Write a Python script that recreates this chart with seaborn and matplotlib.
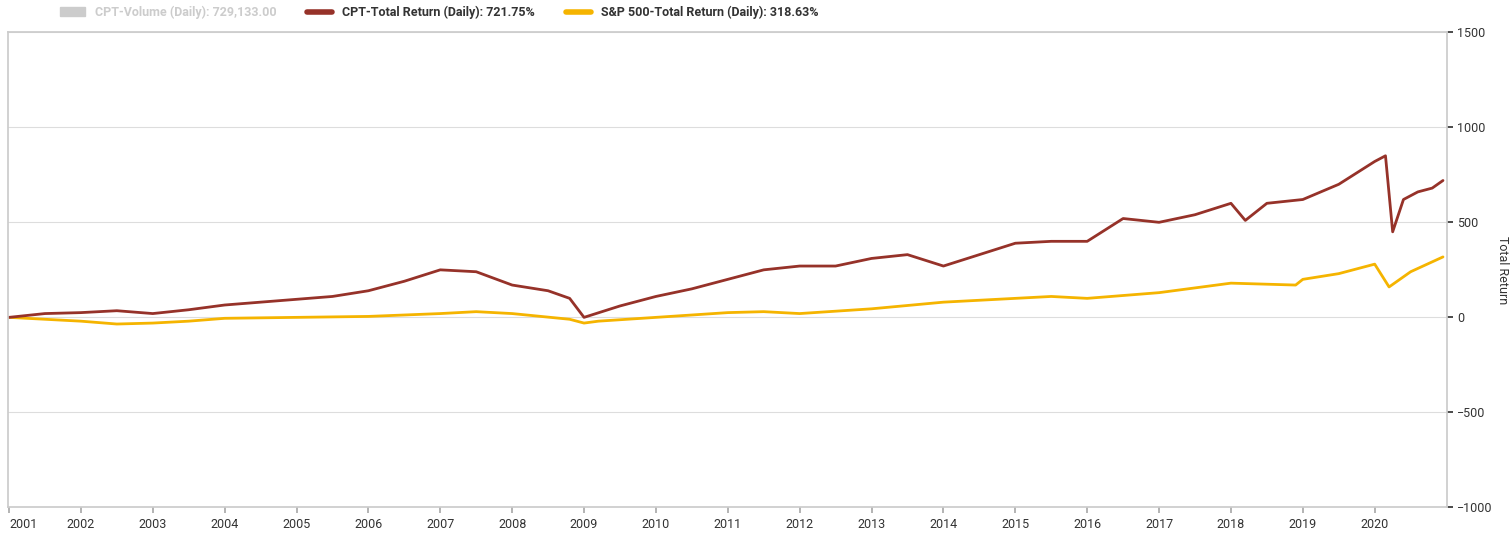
import matplotlib.pyplot as plt
import seaborn as sns
import pandas as pd
from matplotlib.lines import Line2D
from matplotlib.patches import Patch

sns.set_theme(style="white")
plt.rcParams["font.family"] = ["Roboto", "DejaVu Sans"]

cpt_t = [2001.0, 2001.5, 2002.0, 2002.5, 2003.0, 2003.5, 2004.0, 2004.5, 2005.0, 2005.5,
         2006.0, 2006.5, 2007.0, 2007.5, 2008.0, 2008.5, 2008.8, 2009.0, 2009.5, 2010.0,
         2010.5, 2011.0, 2011.5, 2012.0, 2012.5, 2013.0, 2013.5, 2014.0, 2014.5, 2015.0,
         2015.5, 2016.0, 2016.5, 2017.0, 2017.5, 2018.0, 2018.2, 2018.5, 2019.0, 2019.5,
         2020.0, 2020.15, 2020.25, 2020.4, 2020.6, 2020.8, 2020.95]
cpt_v = [0, 20, 25, 35, 20, 40, 65, 80, 95, 110,
         140, 190, 250, 240, 170, 140, 100, 0, 60, 110,
         150, 200, 250, 270, 270, 310, 330, 270, 330, 390,
         400, 400, 520, 500, 540, 600, 510, 600, 620, 700,
         820, 850, 450, 620, 660, 680, 720]
spx_t = [2001.0, 2001.5, 2002.0, 2002.5, 2003.0, 2003.5, 2004.0, 2005.0, 2006.0, 2007.0,
         2007.5, 2008.0, 2008.8, 2009.0, 2009.2, 2010.0, 2011.0, 2011.5, 2012.0, 2013.0,
         2014.0, 2015.0, 2015.5, 2016.0, 2017.0, 2018.0, 2018.9, 2019.0, 2019.5, 2020.0,
         2020.2, 2020.5, 2020.95]
spx_v = [0, -10, -20, -35, -30, -20, -5, 0, 5, 20,
         30, 20, -10, -30, -20, 0, 25, 30, 20, 45,
         80, 100, 110, 100, 130, 180, 170, 200, 230, 280,
         160, 240, 318]
years = list(range(2001, 2021))

cpt_df = pd.DataFrame({"t": cpt_t, "v": cpt_v})
spx_df = pd.DataFrame({"t": spx_t, "v": spx_v})

fig, ax = plt.subplots(figsize=(15.1, 5.37), dpi=100)
fig.subplots_adjust(left=0.005, right=0.958, top=0.94, bottom=0.055)
sns.lineplot(data=spx_df, x="t", y="v", color="#f5b400", lw=2, ax=ax)
sns.lineplot(data=cpt_df, x="t", y="v", color="#963229", lw=2, ax=ax)

ax.set_xlim(2000.98, 2021.0)
ax.set_ylim(-1000, 1500)
ax.yaxis.tick_right()
ax.yaxis.set_label_position("right")
ax.set_yticks(range(-1000, 1501, 500))
ax.set_ylabel("Total Return", rotation=270, labelpad=12, fontsize=9, color="#333")
ax.set_xlabel("")
ax.set_xticks(years)
ax.set_xticklabels([str(y) for y in years])
ax.get_xticklabels()[0].set_horizontalalignment("left")
ax.tick_params(labelsize=9, colors="#333", length=4)
ax.tick_params(axis="x", bottom=True, color="#aaa")
ax.grid(axis="y", color="#dddddd", lw=0.8)
for s in ["left", "top", "right", "bottom"]:
    ax.spines[s].set_color("#cccccc")

handles = [Patch(color="#cccccc"),
           Line2D([], [], color="#963229", lw=4),
           Line2D([], [], color="#f5b400", lw=4)]
labels = ["CPT-Volume (Daily): 729,133.00",
          "CPT-Total Return (Daily): 721.75%",
          "S&P 500-Total Return (Daily): 318.63%"]
leg = fig.legend(handles, labels, loc="upper left", bbox_to_anchor=(0.032, 1.01),
                 ncol=3, frameon=False, handlelength=2, columnspacing=2.5,
                 prop={"weight": "bold", "size": 9})
leg.get_texts()[0].set_color("#cccccc")
for t in leg.get_texts()[1:]:
    t.set_color("#333333")

fig.savefig("out.png")
